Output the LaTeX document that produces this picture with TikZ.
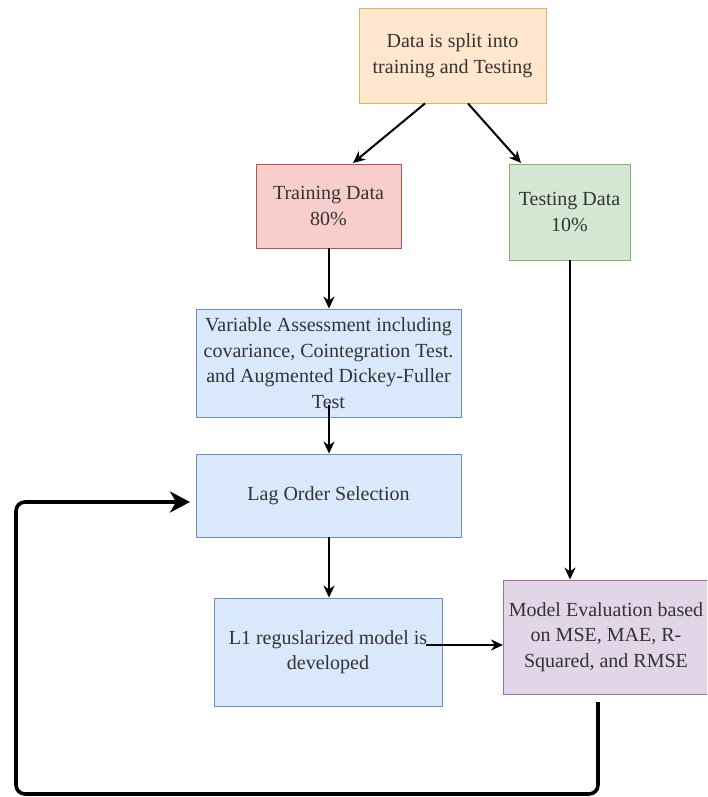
\documentclass[tikz,border=0pt]{standalone}
\usepackage{fontspec}
\setmainfont{Liberation Serif}
\usetikzlibrary{arrows.meta}
\definecolor{orfill}{HTML}{FFE6CC}\definecolor{ordraw}{HTML}{D6B656}
\definecolor{rdfill}{HTML}{F8CECC}\definecolor{rddraw}{HTML}{B85450}
\definecolor{gnfill}{HTML}{D5E8D4}\definecolor{gndraw}{HTML}{82B366}
\definecolor{blfill}{HTML}{DAE8FC}\definecolor{bldraw}{HTML}{6C8EBF}
\definecolor{pufill}{HTML}{E1D5E7}\definecolor{pudraw}{HTML}{9673A6}
\definecolor{txt}{HTML}{333333}
\tikzset{
  boxfont/.style={font=\fontsize{20}{25.5}\selectfont, text=txt},
  box/.style={draw, line width=0.9pt, rectangle, align=center, inner sep=0pt, boxfont},
  arr/.style={draw, line width=2pt, -{Stealth[length=12pt,width=11pt]}},
  looparr/.style={draw, line width=3.6pt, rounded corners=9pt, -{Stealth[length=20pt,width=21pt,inset=6pt]}}
}
\begin{document}
\begin{tikzpicture}[x=1pt,y=-1pt]
\useasboundingbox (0,0) rectangle (707,797);
\begin{scope}
\clip (0,0) rectangle (707,797);
\node[box, fill=orfill, draw=ordraw, minimum width=187pt, minimum height=95pt] (split) at (452.5,55.5) {Data is split into\\training and Testing};
\node[box, fill=rdfill, draw=rddraw, minimum width=145pt, minimum height=84pt] (train) at (328.5,206) {Training Data\\80\%};
\node[box, fill=gnfill, draw=gndraw, minimum width=121pt, minimum height=96pt] (test) at (569.5,212) {Testing Data\\10\%};
\node[box, fill=blfill, draw=bldraw, minimum width=265pt, minimum height=108pt] (var) at (328.5,363) {Variable Assessment including\\covariance, Cointegration Test.\\and Augmented Dickey-Fuller\\Test};
\node[box, fill=blfill, draw=bldraw, minimum width=265pt, minimum height=83pt] (lag) at (328.5,495.5) {Lag Order Selection};
\node[box, fill=blfill, draw=bldraw, minimum width=228pt, minimum height=108pt] (l1) at (328,652) {L1 reguslarized model is\\developed};
\node[box, fill=pufill, draw=pudraw, minimum width=210pt, minimum height=114pt, anchor=west] (eval) at (503,637) {};
\node[boxfont, align=center, inner sep=0pt] (evaltext) at (606,637) {Model Evaluation based\\on MSE, MAE, R-\\Squared, and RMSE};
\end{scope}
\coordinate (varout) at (329,405);
\coordinate (l1out) at (426,645);
\coordinate (loopstart) at (598,702);
\coordinate (loopend) at (190,502);
\draw[arr] (split.south -| 425,0) -- (353,163);
\draw[arr] (split.south -| 468,0) -- (521,163);
\draw[arr] (train.south -| 329,0) -- (var.north -| 329,0);
\draw[arr] (varout) -- (varout |- lag.north);
\draw[arr] (lag.south -| 329,0) -- (l1.north -| 329,0);
\draw[arr] (test.south -| 570,0) -- (eval.north -| 570,0);
\draw[arr] (l1out) -- (eval.west |- l1out);
\draw[looparr] (loopstart) -- (598,794) -- (16,794) -- (16,502) -- (loopend);
\end{tikzpicture}
\end{document}
